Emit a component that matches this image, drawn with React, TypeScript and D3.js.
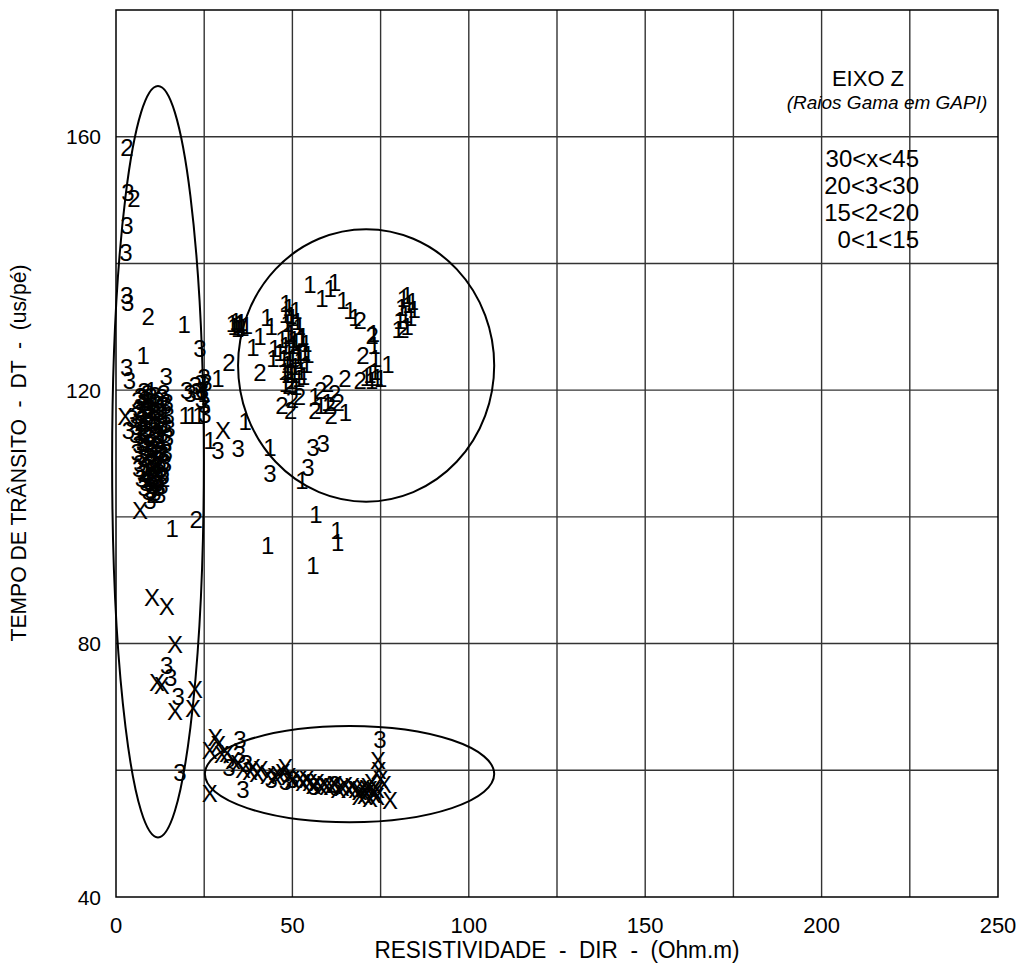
import React from "react";
import * as d3 from "d3";

// eixos
const xTicks = [0, 50, 100, 150, 200, 250];
const xGrid = [25, 50, 75, 100, 125, 150, 175, 200, 225];
const yTicks = [40, 80, 120, 160];
const yGrid = [60, 80, 100, 120, 140, 160];

// legenda (eixo Z)
const legendLines = ["30<x<45", "20<3<30", "15<2<20", "0<1<15"];

// pontos marcados com "X" (30 < GR < 45)
const pointsX: [number, number][] = [
  [2.6, 115.9], [6.8, 101], [30.3, 113.7], [10.2, 87.3], [14.4, 85.8], [16.7, 79.8],
  [11.6, 73.9], [13, 73.4], [16.7, 69.2], [22.4, 72.7], [21.8, 69.8],
  [28.1, 65.2], [26.6, 63.2], [29, 64], [30, 62.5], [31.5, 62.7], [33.2, 61.6], [26.6, 56.4],
  [34.5, 61], [36, 60.2], [38, 59.8], [38.8, 60.4], [40, 59.5], [41, 60.2], [43, 59.2],
  [45, 59], [46, 59.4], [47.3, 59.6], [48, 60.4], [49, 59], [50, 58.5], [52, 58.6],
  [53, 58], [54, 58.5], [55, 58.1], [56, 57.6], [57, 58], [58, 57.5], [59, 57.8],
  [59.8, 57.4], [61, 57.5], [62, 57.8], [63, 57], [64, 57.3], [65, 57.6], [66, 57],
  [67, 57.4], [68, 57], [69, 56.7], [70, 57.2], [71.1, 57.2], [71, 56.4], [72, 57],
  [73, 56.2], [74, 57], [72.5, 58], [74.3, 61.6], [74.5, 60], [75, 58.5], [76, 57.8],
  [77.7, 55.3], [74, 55.8], [73, 56.8], [70.5, 56], [71.5, 57.5], [69, 55.8], [72, 55.5],
];

// pontos marcados com "3" (20 < GR < 30)
const points3: [number, number][] = [
  [3.4, 151.2], [3.1, 146], [2.8, 141.8], [3, 135], [3.3, 133.9], [3, 123.6], [3.8, 121.6],
  [14.2, 122.2], [23.8, 126.6], [24, 121], [24.5, 120], [23, 119.8], [25, 122], [25.5, 121.2],
  [22.5, 120.8], [24.2, 118.5], [25.2, 116.2], [25, 117.8], [20, 120], [21, 119.4],
  [3.5, 113.7], [4.5, 115.5], [9.6, 102.6], [28.9, 110.5], [34.6, 110.8], [43.6, 106.9],
  [54.4, 107.8], [55.8, 111], [58.7, 111.6],
  [14.4, 76.6], [15.5, 74.6], [17.6, 71.6], [18.1, 59.6], [35.1, 64.8], [36, 56.9],
  [74.8, 64.8], [35, 62.5], [37, 61], [32, 60.5], [44, 58.5], [48, 58.2], [50, 58.6],
  [56, 57.5], [62, 57.8],
  [7, 119], [9, 119.5], [11, 119.2], [13, 118.8], [8, 118], [10, 118.2], [12, 117.8],
  [14, 117.5], [6.5, 117], [9, 116.8], [11, 116.5], [13, 116.2], [7.5, 115.5], [10, 115.2],
  [12, 115], [14, 114.6], [6, 114.2], [8.5, 114], [11, 113.6], [13, 113.2], [7, 112.8],
  [9.5, 112.5], [12, 112.2], [14, 111.8], [6.5, 111.4], [8.5, 111], [10.5, 110.8],
  [12.5, 110.4], [7.5, 109.8], [9.5, 109.5], [11.5, 109.2], [13.5, 108.8], [6.8, 108.4],
  [8.8, 108], [10.8, 107.8], [12.6, 107.4], [7.8, 106.8], [9.8, 106.5], [11.8, 106.2],
  [8.5, 105.4], [10.5, 105], [12, 104.6], [9.2, 104], [11, 103.8],
  [8, 119.8], [10, 119], [12, 118.4], [7, 116.4], [9, 115.8], [11, 115.4], [13, 114.8],
  [8, 113.2], [10, 112.8], [12, 113], [7.5, 111.8], [9.5, 110.6], [11.5, 111.2], [13, 110],
  [8, 109.2], [10, 108.6], [12, 108.2], [9, 107.2], [11, 106.8], [9.5, 105.6], [11.5, 105.2],
  [14.5, 118], [14.8, 116], [15, 114], [14.6, 112.6], [14.2, 110.2], [14, 108.4],
  [13.4, 106.6], [13, 105], [6.2, 118.4], [5.8, 116], [5.6, 113], [6, 110.2], [6.4, 107.6],
  [7.2, 106], [8, 104.6], [10, 104.2], [12.4, 103.6], [10.2, 110], [11.2, 114.4], [9.2, 117.4],
  [7.6, 118.8], [13.6, 119.4], [10.4, 106], [8.6, 116.2], [12.8, 116.6], [7.2, 114.8],
];

// pontos marcados com "2" (15 < GR < 20)
const points2: [number, number][] = [
  [3.1, 158.3], [5.1, 150.3], [9.1, 131.7], [22.7, 99.6], [32, 124.3], [40.8, 122.8],
  [69.2, 131], [81.3, 129.5], [72.6, 128.7], [70, 125.5], [69.2, 121.6], [64.9, 121.9],
  [49, 120.8], [50, 118.5], [49.5, 116.8], [47, 117.5], [52, 119], [56.4, 116.8], [58, 120],
  [60, 121], [62, 119.5], [63, 118], [60.5, 117.5], [61, 116],
  [11, 118], [9, 113], [12, 109], [8, 107], [10.5, 103.5], [13.5, 106],
];

// pontos marcados com "1" (0 < GR < 15)
const points1: [number, number][] = [
  [7.7, 125.4], [19.3, 130.3], [15.9, 98.2], [19.6, 116], [21.5, 116], [23.5, 116],
  [26.6, 112.1], [28.9, 121.9], [25, 119.5], [36.6, 115], [43.6, 111], [52.7, 105.8],
  [38.8, 126.8], [40.8, 128.4], [42.8, 131.4], [44, 130],
  [33, 130.5], [33.5, 130], [34, 130.8], [34.5, 129.8], [35, 130.3], [35.5, 130.6], [36, 129.9], [37, 130.2],
  [43, 95.5], [55.8, 92.4], [56.7, 100.3], [62.6, 97.9], [62.8, 96],
  [48, 132], [48.5, 130.5], [49, 133], [49.5, 129], [50, 131.5], [50.5, 128], [51, 132.5],
  [52, 130], [48, 127], [49, 126], [50, 125], [51, 127.5], [52, 126], [48.5, 124],
  [49.5, 123], [50.5, 122.5], [53, 128.5], [53.5, 126], [54, 124], [52.5, 123], [48, 121],
  [51, 120.5], [47, 128], [46.5, 126], [45, 126.5], [44.5, 125],
  [48.2, 133.6], [49.6, 131.8], [51.4, 130.8], [52.6, 128.2], [48.8, 128.6], [50.2, 127],
  [51.6, 125.4], [49.2, 124.8], [50.8, 123.8], [52.2, 124.6], [53.2, 122.2], [48.6, 122.4],
  [49.8, 121.6], [51.8, 121.8], [47.6, 125], [47.8, 123], [53.8, 127.4], [54.4, 125.6],
  [55, 136.6], [58.4, 134.5], [60.7, 136.1], [62, 137], [64.3, 134.2], [66.3, 132.6], [67.7, 131.4],
  [80.5, 131], [81, 133], [81.5, 134.5], [82, 132], [82.5, 135], [83, 133.5], [83.5, 131.5],
  [84, 134], [84.5, 132.8], [80, 129.5], [82.5, 130],
  [73, 129], [73.2, 127], [73.5, 125], [73.4, 123], [72, 122.5], [71, 122], [74, 122],
  [75, 121.8], [77.1, 124], [72.5, 121.5],
  [56.4, 119], [58, 117.5], [65, 116.5], [60, 118],
  [8, 118.5], [10, 117], [12, 114], [9, 111.5], [11, 108.5], [13, 112], [9.5, 106], [7, 113.5], [10, 120],
];

// elipses que agrupam os pontos: [cx, cy, rx, ry] em unidades dos dados
const ellipses: [number, number, number, number][] = [
  [11.9, 108.7, 13, 59.3],
  [70.9, 123.9, 36.3, 21.5],
  [66.2, 59.4, 41, 7.6],
];

const groups: { label: string; pts: [number, number][] }[] = [
  { label: "3", pts: points3 },
  { label: "2", pts: points2 },
  { label: "1", pts: points1 },
  { label: "X", pts: pointsX },
];

const W = 1024;
const H = 963;
const left = 116;
const right = 998;
const top = 10;
const bottom = 897;

const font = "'Liberation Sans', Arial, sans-serif";

export default function App() {
  const x = d3.scaleLinear().domain([0, 250]).range([left, right]);
  const y = d3.scaleLinear().domain([40, 180]).range([bottom, top]);

  return (
    <svg width={W} height={H} style={{ position: "absolute", left: 0, top: 0, background: "#fff" }}>
      <rect x={0} y={0} width={W} height={H} fill="#fff" />
      {xGrid.map((v) => (
        <line key={"gx" + v} x1={x(v)} x2={x(v)} y1={top} y2={bottom} stroke="#333" strokeWidth={1.4} />
      ))}
      {yGrid.map((v) => (
        <line key={"gy" + v} x1={left} x2={right} y1={y(v)} y2={y(v)} stroke="#333" strokeWidth={1.4} />
      ))}
      <rect x={left} y={top} width={right - left} height={bottom - top} fill="none" stroke="#000" strokeWidth={1.5} />

      {groups.map((g) =>
        g.pts.map((p, i) => (
          <text
            key={g.label + i}
            x={x(p[0])}
            y={y(p[1])}
            textAnchor="middle"
            dominantBaseline="central"
            fontFamily={font}
            fontSize={24}
            fill="#000"
          >
            {g.label}
          </text>
        ))
      )}

      {ellipses.map((e, i) => (
        <ellipse
          key={"el" + i}
          cx={x(e[0])}
          cy={y(e[1])}
          rx={x(e[0] + e[2]) - x(e[0])}
          ry={y(e[1] - e[3]) - y(e[1])}
          fill="none"
          stroke="#000"
          strokeWidth={2}
        />
      ))}

      {xTicks.map((v) => (
        <text key={"xt" + v} x={x(v)} y={925} textAnchor="middle" dominantBaseline="central" fontFamily={font} fontSize={22}>
          {v}
        </text>
      ))}
      {yTicks.map((v) => (
        <text key={"yt" + v} x={101} y={y(v)} textAnchor="end" dominantBaseline="central" fontFamily={font} fontSize={21}>
          {v}
        </text>
      ))}

      <text
        x={557}
        y={950}
        textAnchor="middle"
        dominantBaseline="central"
        fontFamily={font}
        fontSize={23}
        textLength={365}
        lengthAdjust="spacingAndGlyphs"
        style={{ whiteSpace: "pre" }}
      >
        {"RESISTIVIDADE  -  DIR  -  (Ohm.m)"}
      </text>
      <text
        transform={`translate(18,453) rotate(-90)`}
        textAnchor="middle"
        dominantBaseline="central"
        fontFamily={font}
        fontSize={22}
        textLength={377}
        lengthAdjust="spacingAndGlyphs"
        style={{ whiteSpace: "pre" }}
      >
        {"TEMPO DE TRÂNSITO  -  DT  -  (us/pé)"}
      </text>

      <text x={868} y={78} textAnchor="middle" dominantBaseline="central" fontFamily={font} fontSize={22}>
        EIXO Z
      </text>
      <text x={887} y={102} textAnchor="middle" dominantBaseline="central" fontFamily={font} fontSize={19} fontStyle="italic">
        (Raios Gama em GAPI)
      </text>
      {legendLines.map((s, i) => (
        <text key={"lg" + i} x={919} y={158 + i * 27.3} textAnchor="end" dominantBaseline="central" fontFamily={font} fontSize={24}>
          {s}
        </text>
      ))}
    </svg>
  );
}
